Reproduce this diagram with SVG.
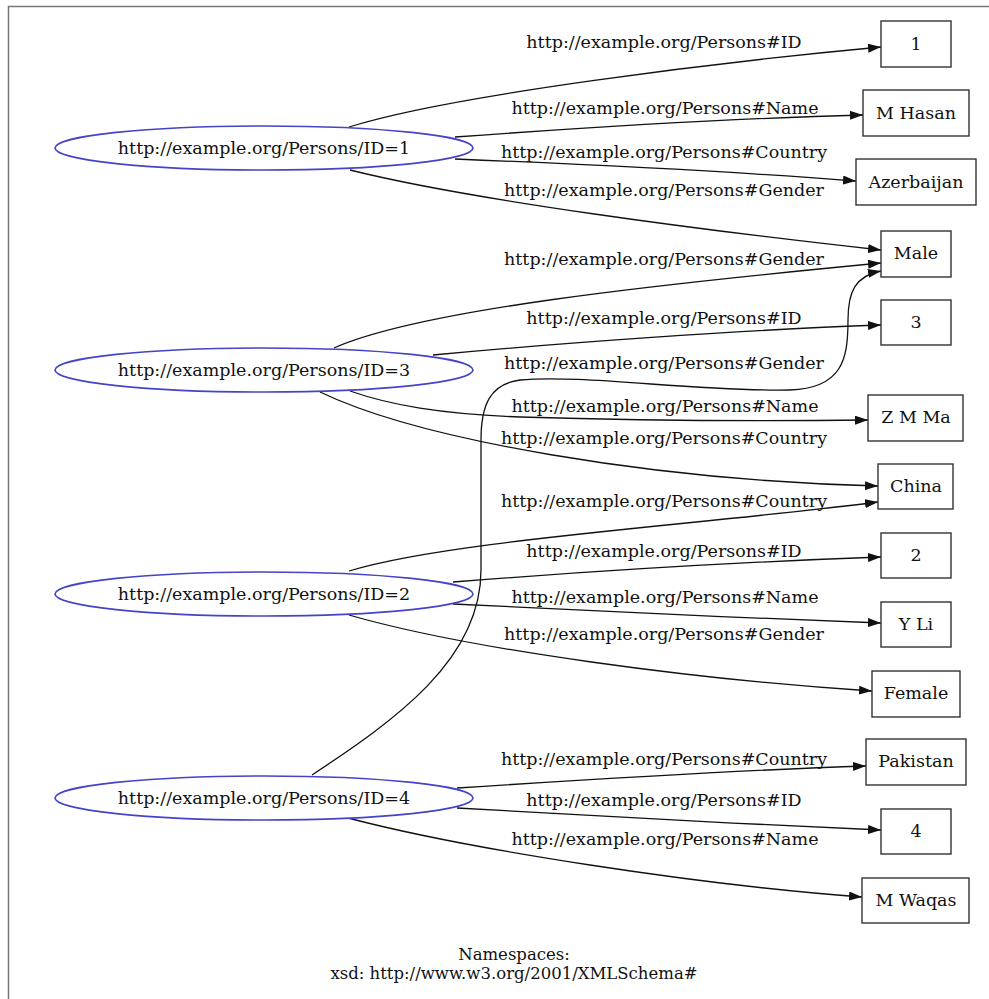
<svg xmlns="http://www.w3.org/2000/svg" width="989" height="999" viewBox="0 0 989 999">
  <style>
    text { font-family: "DejaVu Serif", "Liberation Serif", serif; font-size: 17.5px; fill: #111111; }
    .n text, .lbl { text-anchor: middle; }
    .legend text { font-size: 16.5px; }
    .res ellipse { fill: #ffffff; stroke: #4444c8; stroke-width: 1.7; }
    .lit rect { fill: #ffffff; stroke: #333333; stroke-width: 1.4; }
    .e { fill: none; stroke: #111111; stroke-width: 1.3; marker-end: url(#arrow); }
  </style>
  <defs>
    <marker id="arrow" viewBox="0 0 13 9" refX="13" refY="4.5" markerWidth="13" markerHeight="9" markerUnits="userSpaceOnUse" orient="auto">
      <path d="M0,0 L13,4.5 L0,9 Z" fill="#111111"/>
    </marker>
  </defs>

  <rect x="0" y="0" width="989" height="999" fill="#ffffff"/>
  <!-- frame -->
  <path d="M8.5,999 L8.5,6.5 L989,6.5" fill="none" stroke="#777777" stroke-width="1.5"/>

  <!-- connectors -->
  <g id="edges">
    <!-- ID=1 -->
    <path class="e" d="M349,127 C450,95 720,62 881,47"/>
    <path class="e" d="M455,137 C580,128 740,118 863,115"/>
    <path class="e" d="M455,159 C580,164 740,172 856,181"/>
    <path class="e" d="M350,170 C470,200 700,230 881,250"/>
    <!-- ID=3 -->
    <path class="e" d="M334,348 C420,310 650,285 881,263"/>
    <path class="e" d="M433,355 C560,343 740,330 881,325"/>
    <path class="e" d="M350,391 C390,405 440,414 520,417 C650,421 780,421 868,420"/>
    <path class="e" d="M320,392 C420,440 650,480 878,486"/>
    <!-- ID=2 -->
    <path class="e" d="M349,571 C450,540 700,525 878,502"/>
    <path class="e" d="M453,582 C580,572 740,562 881,557"/>
    <path class="e" d="M453,604 C580,610 740,618 881,623"/>
    <path class="e" d="M349,615 C470,650 700,680 872,691"/>
    <!-- ID=4 -->
    <path class="e" d="M312,775 C395,720 481,660 481,570 L481,440 C481,405 490,384 520,380 C580,374 700,392 790,390 C842,388 848,360 848,320 C848,292 855,276 881,271"/>
    <path class="e" d="M457,788 C580,780 740,770 866,766"/>
    <path class="e" d="M457,808 C580,815 740,824 881,830"/>
    <path class="e" d="M348,818 C470,850 700,885 862,897"/>
  </g>

  <!-- connector labels -->
  <g id="edge-labels">
    <text class="lbl" x="664" y="48">http://example.org/Persons#ID</text>
    <text class="lbl" x="665" y="114">http://example.org/Persons#Name</text>
    <text class="lbl" x="664" y="158">http://example.org/Persons#Country</text>
    <text class="lbl" x="664" y="196">http://example.org/Persons#Gender</text>
    <text class="lbl" x="664" y="265">http://example.org/Persons#Gender</text>
    <text class="lbl" x="664" y="324">http://example.org/Persons#ID</text>
    <text class="lbl" x="664" y="369">http://example.org/Persons#Gender</text>
    <text class="lbl" x="665" y="412">http://example.org/Persons#Name</text>
    <text class="lbl" x="664" y="444">http://example.org/Persons#Country</text>
    <text class="lbl" x="664" y="507">http://example.org/Persons#Country</text>
    <text class="lbl" x="664" y="557">http://example.org/Persons#ID</text>
    <text class="lbl" x="665" y="603">http://example.org/Persons#Name</text>
    <text class="lbl" x="664" y="640">http://example.org/Persons#Gender</text>
    <text class="lbl" x="664" y="765">http://example.org/Persons#Country</text>
    <text class="lbl" x="664" y="806">http://example.org/Persons#ID</text>
    <text class="lbl" x="665" y="845">http://example.org/Persons#Name</text>
  </g>

  <!-- resource nodes -->
  <g id="person1" class="n res"><ellipse cx="264" cy="148" rx="209" ry="22"/><text x="264" y="154">http://example.org/Persons/ID=1</text></g>
  <g id="person3" class="n res"><ellipse cx="264" cy="370" rx="209" ry="22"/><text x="264" y="376">http://example.org/Persons/ID=3</text></g>
  <g id="person2" class="n res"><ellipse cx="264" cy="594" rx="209" ry="22"/><text x="264" y="600">http://example.org/Persons/ID=2</text></g>
  <g id="person4" class="n res"><ellipse cx="264" cy="798" rx="209" ry="22"/><text x="264" y="804">http://example.org/Persons/ID=4</text></g>

  <!-- literal nodes -->
  <g id="lit-1" class="n lit"><rect x="881" y="21" width="70" height="46"/><text x="916" y="50">1</text></g>
  <g id="lit-mhasan" class="n lit"><rect x="863" y="90" width="106" height="46"/><text x="916" y="119">M Hasan</text></g>
  <g id="lit-azerbaijan" class="n lit"><rect x="856" y="159" width="120" height="46"/><text x="916" y="188">Azerbaijan</text></g>
  <g id="lit-male" class="n lit"><rect x="881" y="231" width="70" height="46"/><text x="916" y="259">Male</text></g>
  <g id="lit-3" class="n lit"><rect x="881" y="300" width="70" height="45"/><text x="916" y="328">3</text></g>
  <g id="lit-zmma" class="n lit"><rect x="868" y="395" width="95" height="46"/><text x="916" y="423">Z M Ma</text></g>
  <g id="lit-china" class="n lit"><rect x="878" y="464" width="75" height="45"/><text x="916" y="492">China</text></g>
  <g id="lit-2" class="n lit"><rect x="881" y="533" width="70" height="45"/><text x="916" y="561">2</text></g>
  <g id="lit-yli" class="n lit"><rect x="881" y="602" width="70" height="45"/><text x="916" y="630">Y Li</text></g>
  <g id="lit-female" class="n lit"><rect x="872" y="671" width="88" height="46"/><text x="916" y="699">Female</text></g>
  <g id="lit-pakistan" class="n lit"><rect x="866" y="739" width="100" height="46"/><text x="916" y="767">Pakistan</text></g>
  <g id="lit-4" class="n lit"><rect x="881" y="809" width="70" height="45"/><text x="916" y="837">4</text></g>
  <g id="lit-mwaqas" class="n lit"><rect x="862" y="878" width="107" height="45"/><text x="916" y="906">M Waqas</text></g>

  <!-- namespace legend -->
  <g id="legend" class="legend">
    <text class="lbl" x="514" y="960">Namespaces:</text>
    <text class="lbl" x="514" y="979">xsd: http://www.w3.org/2001/XMLSchema#</text>
  </g>
</svg>
